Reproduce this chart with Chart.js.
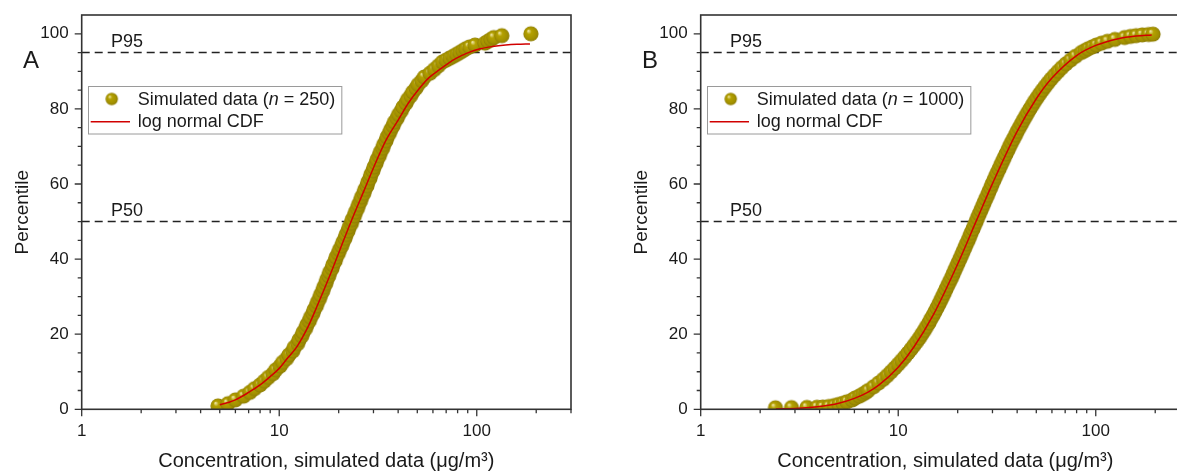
<!DOCTYPE html>
<html><head><meta charset="utf-8">
<script src="https://cdn.jsdelivr.net/npm/chart.js@4/dist/chart.umd.min.js"></script>
<style>
html,body{margin:0;padding:0;background:#fff;overflow:hidden;width:1177px;height:473px;}
#wrap{position:relative;width:1177px;height:473px;overflow:hidden;}
canvas{position:absolute;top:0;}
#cA{left:0}
#cB{left:619px}
</style></head><body>
<div id="wrap"><canvas id="cA" width="600" height="473"></canvas><canvas id="cB" width="600" height="473"></canvas></div>
<script>
// ---------- data ----------
const panelLabels = ['A', 'B'];
const sampleSizes = [250, 1000];
const refLevels = [95, 50];
const refLabels = ['P95', 'P50'];
const xRange = [1, 300];
const yRange = [0, 105];
const xMajorTicks = [1, 10, 100];
const xMinorTicks = [2,3,4,5,6,7,8,9,20,30,40,50,60,70,80,90,200,300];
const yMajorTicks = [0, 20, 40, 60, 80, 100];
const yMinorTicks = [5,10,15,25,30,35,45,50,55,65,70,75,85,90,95];
const xTitle = 'Concentration, simulated data (μg/m³)';
const yTitle = 'Percentile';

// Panel A: simulated data (n = 250)
const concA = [4.9,5.5,6.0,6.6,7.1,7.5,8.0,8.4,8.8,9.3,9.6,10.1,10.4,10.9,11.2,11.7,11.9,12.4,12.6,13.0,
  13.2,13.6,13.8,14.2,14.4,14.8,15.0,15.4,15.6,16.0,16.2,16.6,16.8,17.2,17.4,17.8,18.0,18.5,18.7,19.2,
  19.4,19.9,20.2,20.7,21.0,21.5,21.8,22.3,22.6,23.2,23.4,24.0,24.3,24.9,25.2,25.8,26.1,26.8,27.1,27.8,
  28.1,28.8,29.1,29.8,30.2,30.9,31.3,32.1,32.5,33.4,33.8,34.7,35.2,36.1,36.7,37.7,38.3,39.5,40.2,41.5,
  42.3,43.8,44.7,46.3,47.4,49.2,50.5,52.7,54.3,58,61,64,67,70,73,76,79,82,85,88,92,98,110,114,118,122,134,188];
const pctA = [0.9,1.5,2.5,3.5,4.5,5.5,6.5,7.5,8.5,9.5,10.5,11.5,12.5,13.5,14.5,15.5,16.5,17.5,18.5,19.5,
  20.5,21.5,22.5,23.5,24.5,25.5,26.5,27.5,28.5,29.5,30.5,31.5,32.5,33.5,34.5,35.5,36.5,37.5,38.5,39.5,
  40.5,41.5,42.5,43.5,44.5,45.5,46.5,47.5,48.5,49.5,50.5,51.5,52.5,53.5,54.5,55.5,56.5,57.5,58.5,59.5,
  60.5,61.5,62.5,63.5,64.5,65.5,66.5,67.5,68.5,69.5,70.5,71.5,72.5,73.5,74.5,75.5,76.5,77.5,78.5,79.5,
  80.5,81.5,82.5,83.5,84.5,85.5,86.5,87.5,88.5,89.5,90.5,91.5,92.5,93.0,93.5,94.0,94.5,95.0,95.5,96.0,96.5,97.0,97.5,98.0,98.5,99.0,99.5,100];
// Panel A: fitted log normal CDF
const fitXA = [5.0,5.5,6,7,8,9,10,11,12.3,14,15.5,18,20.3,23.3,27,31.2,35,40,45,50.6,57,65,72,79,90,104,120,140,160,186];
const fitYA = [1.2,1.8,2.5,4.5,6.5,8.7,10.9,13.6,16.7,22,27.3,35.5,42.5,50.5,58.5,66.4,72,77,81.5,85.1,88.2,90.5,92.2,93.5,94.9,96.0,96.6,97.0,97.2,97.3];

// Panel B: simulated data (n = 1000)
const concB = [2.39,2.88,3.45,3.88,4.15,4.45,4.75,5.0,5.25,5.5,5.85,6.05,6.35,6.6,6.85,7.05,7.5,7.95,8.4,8.8,
  9.2,9.6,10.0,10.4,10.8,11.2,11.6,12.0,12.4,12.8,13.15,13.55,13.9,14.3,14.6,15.0,15.35,15.7,16.05,16.4,
  16.75,17.1,17.45,17.8,18.2,18.6,18.95,19.3,19.7,20.1,20.5,20.9,21.3,21.7,22.1,22.6,23.0,23.4,23.9,24.3,
  24.8,25.2,25.7,26.2,26.7,27.2,27.7,28.3,28.8,29.4,29.9,30.5,31.1,31.7,32.4,33.0,33.7,34.4,35.1,35.9,
  36.6,37.4,38.3,39.2,40.0,41.0,42.0,43.0,44.1,45.2,46.4,47.7,49.0,50.5,52.0,53.7,55.5,57.4,59.5,61.9,
  64.5,67.3,70.6,74.5,79.0,84.5,88,91.5,96,100.7,107,114.6,125,140,150,160,172,185,195];
const pctB = [0.4,0.45,0.5,0.55,0.6,0.75,1.0,1.3,1.6,2.0,2.5,3,3.5,4,4.5,5,6,7,8,9,
  10,11,12,13,14,15,16,17,18,19,20,21,22,23,24,25,26,27,28,29,
  30,31,32,33,34,35,36,37,38,39,40,41,42,43,44,45,46,47,48,49,
  50,51,52,53,54,55,56,57,58,59,60,61,62,63,64,65,66,67,68,69,
  70,71,72,73,74,75,76,77,78,79,80,81,82,83,84,85,86,87,88,89,
  90,91,92,93,94,95,95.5,96,96.5,97,97.5,98,98.5,99,99.3,99.5,99.7,99.8,99.9];
// Panel B: fitted log normal CDF
const fitXB = [2.4,3,4,5,6,7,8,10,12,15,20,25,30,40,50,60,80,100,130,160,192];
const fitYB = [0.08,0.23,0.73,1.6,2.9,4.5,6.5,11.2,16.6,25.0,38.7,50.5,60.1,74.0,82.7,88.2,94.2,96.9,98.7,99.4,99.7];

// ---------- drawing ----------
const FONT = "'Liberation Sans', Arial, sans-serif";
const INK = '#1a1a1a';

function makeSphere(r) {
  const c = document.createElement('canvas');
  const s = Math.ceil(r * 2 + 2);
  c.width = s; c.height = s;
  const g = c.getContext('2d');
  const cx = s / 2, cy = s / 2;
  const grad = g.createRadialGradient(cx - r * 0.35, cy - r * 0.4, r * 0.05, cx, cy, r);
  grad.addColorStop(0, '#eee4a0');
  grad.addColorStop(0.3, '#b4a100');
  grad.addColorStop(0.8, '#a18f00');
  grad.addColorStop(1, '#8a7a05');
  g.fillStyle = grad;
  g.beginPath(); g.arc(cx, cy, r, 0, Math.PI * 2); g.fill();
  return c;
}
const sphere = makeSphere(7.6);

function buildChart(canvasId, idx, conc, pct, fitX, fitY) {
  const scatterPts = conc.map((x, i) => ({ x: x, y: pct[i] }));
  const fitPts = fitX.map((x, i) => ({ x: x, y: fitY[i] }));
  const refSets = refLevels.map(v => ({
    data: [{ x: xRange[0], y: v }, { x: xRange[1], y: v }],
    showLine: true, borderColor: '#222', borderWidth: 1.5, borderDash: [8, 5],
    pointRadius: 0, order: 3
  }));

  const decor = {
    id: 'decor' + idx,
    afterDraw(chart) {
      const ctx = chart.ctx, a = chart.chartArea;
      const xs = chart.scales.x, ys = chart.scales.y;
      ctx.save();
      ctx.strokeStyle = '#333'; ctx.lineWidth = 1.6;
      ctx.strokeRect(a.left, a.top, a.right - a.left, a.bottom - a.top);
      ctx.lineWidth = 1.3; ctx.strokeStyle = '#333';
      ctx.beginPath();
      yMajorTicks.forEach(v => { const p = ys.getPixelForValue(v); ctx.moveTo(a.left, p); ctx.lineTo(a.left - 7, p); });
      yMinorTicks.forEach(v => { const p = ys.getPixelForValue(v); ctx.moveTo(a.left, p); ctx.lineTo(a.left - 4, p); });
      xMajorTicks.forEach(v => { const p = xs.getPixelForValue(v); ctx.moveTo(p, a.bottom); ctx.lineTo(p, a.bottom + 7); });
      xMinorTicks.forEach(v => { const p = xs.getPixelForValue(v); ctx.moveTo(p, a.bottom); ctx.lineTo(p, a.bottom + 4); });
      ctx.stroke();
      ctx.fillStyle = INK; ctx.textBaseline = 'alphabetic'; ctx.textAlign = 'left';
      ctx.font = '18px ' + FONT;
      refLevels.forEach((v, i) => ctx.fillText(refLabels[i], 111, ys.getPixelForValue(v) - 6));
      ctx.font = '24px ' + FONT;
      ctx.fillText(panelLabels[idx], 23, 68);
      ctx.font = '18px ' + FONT;
      const ta = 'Simulated data (', tb = ' = ' + sampleSizes[idx] + ')';
      const wa = ctx.measureText(ta).width, wb = ctx.measureText(tb).width;
      ctx.font = 'italic 18px ' + FONT;
      const wn = ctx.measureText('n').width;
      const tx = 137.7;
      const bx = 88, by = 86, bw = tx + wa + wn + wb + 6 - bx, bh = 47.5;
      ctx.fillStyle = '#fff'; ctx.fillRect(bx, by, bw, bh);
      ctx.strokeStyle = '#9a9a9a'; ctx.lineWidth = 1; ctx.strokeRect(bx + 0.5, by + 0.5, bw, bh);
      const ls = makeSphere(6.2);
      ctx.drawImage(ls, 111.7 - ls.width / 2, 99 - ls.height / 2);
      ctx.strokeStyle = '#d10000'; ctx.lineWidth = 1.6;
      ctx.beginPath(); ctx.moveTo(90.7, 121.7); ctx.lineTo(130, 121.7); ctx.stroke();
      ctx.fillStyle = INK;
      ctx.font = '18px ' + FONT; ctx.fillText(ta, tx, 105);
      ctx.font = 'italic 18px ' + FONT; ctx.fillText('n', tx + wa, 105);
      ctx.font = '18px ' + FONT; ctx.fillText(tb, tx + wa + wn, 105);
      ctx.fillText('log normal CDF', tx, 126.7);
      ctx.restore();
    }
  };

  return new Chart(document.getElementById(canvasId), {
    type: 'scatter',
    data: {
      datasets: [
        { data: fitPts, showLine: true, borderColor: '#d10000', borderWidth: 1.5, pointRadius: 0,
          cubicInterpolationMode: 'monotone', order: 0 },
        { data: scatterPts, pointStyle: sphere, pointRadius: 7.6, order: 1 },
        ...refSets
      ]
    },
    options: {
      responsive: false, animation: false, events: [],
      layout: { padding: { top: 15, right: 29, left: 0, bottom: 0 } },
      plugins: { legend: { display: false }, tooltip: { enabled: false } },
      scales: {
        x: {
          type: 'logarithmic', min: xRange[0], max: xRange[1], position: 'bottom',
          grid: { display: false, drawTicks: false }, border: { display: false },
          afterBuildTicks: s => { s.ticks = xMajorTicks.map(v => ({ value: v })); },
          afterFit: s => { s.height = 63.7; s.paddingLeft = 0; s.paddingRight = 0; },
          ticks: { autoSkip: false, maxRotation: 0, padding: 12, color: INK,
                   font: { family: FONT, size: 17 }, callback: v => String(v) },
          title: { display: true, text: xTitle, color: INK, font: { family: FONT, size: 20 },
                   padding: { top: 0, bottom: 0 } }
        },
        y: {
          type: 'linear', min: yRange[0], max: yRange[1],
          grid: { display: false, drawTicks: false }, border: { display: false },
          afterBuildTicks: s => { s.ticks = yMajorTicks.map(v => ({ value: v })); },
          afterFit: s => { s.width = 81.7; s.paddingTop = 0; s.paddingBottom = 0; },
          ticks: { padding: 13, color: INK, font: { family: FONT, size: 17 }, callback: v => String(v) },
          title: { display: true, text: yTitle, color: INK, font: { family: FONT, size: 19 },
                   padding: { top: 11, bottom: 0 } }
        }
      }
    },
    plugins: [decor]
  });
}

buildChart('cA', 0, concA, pctA, fitXA, fitYA);
buildChart('cB', 1, concB, pctB, fitXB, fitYB);
</script>
</body></html>
